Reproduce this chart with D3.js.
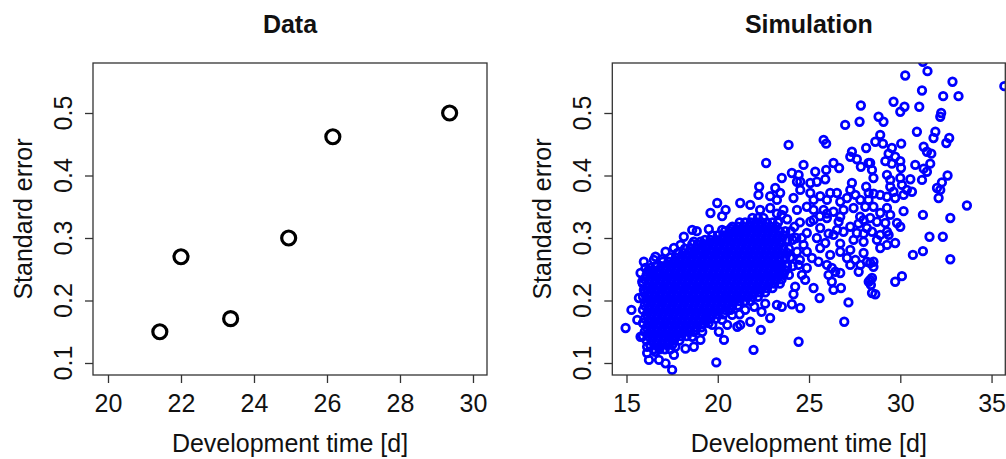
<!DOCTYPE html>
<html><head><meta charset="utf-8">
<script src="https://cdn.jsdelivr.net/npm/d3@7"></script>
<style>body{margin:0;background:#fff} svg{display:block} text{font-family:"Liberation Sans",Arial,sans-serif;fill:#111}</style>
</head><body><svg id="c" width="1006" height="459"></svg>
<script>
// ---------- data ----------
const titles = ["Data", "Simulation"];
const xLabel = "Development time [d]";
const yLabel = "Standard error";
const leftXTicks = [20, 22, 24, 26, 28, 30];
const rightXTicks = [15, 20, 25, 30, 35];
const yTicks = [0.1, 0.2, 0.3, 0.4, 0.5];

// observed data (left panel)
const dataX = [21.42, 22.0, 23.36, 24.95, 26.16, 29.36];
const dataY = [0.15, 0.27, 0.171, 0.30, 0.462, 0.50];

// simulation: dense core, estimated row by row (y, list of x)
const simCoreY = [0.122,0.129,0.136,0.143,0.150,0.157,0.164,0.171,0.178,0.185,0.192,0.199,0.206,0.213,0.220,0.227,0.234,0.241,0.248,0.255,0.262,0.269,0.276,0.283,0.290,0.297,0.304,0.311,0.318,0.325,0.332];
const simCoreX = [
 [16.5,16.8,17.1,17.4],
 [16.3,16.6,16.9,17.2,17.5],
 [16.1,16.4,16.7,17.0,17.3,17.6,17.9],
 [15.9,16.2,16.5,16.8,17.1,17.4,17.7,18.0,18.3],
 [16.0,16.3,16.6,16.9,17.2,17.5,17.8,18.1,18.4,18.7],
 [16.1,16.4,16.7,17.0,17.3,17.6,17.9,18.2,18.5,18.8,19.1],
 [15.9,16.2,16.5,16.8,17.1,17.4,17.7,18.0,18.3,18.6,18.9,19.2,19.5],
 [16.0,16.3,16.6,16.9,17.2,17.5,17.8,18.1,18.4,18.7,19.0,19.3,19.6,19.9],
 [16.1,16.4,16.7,17.0,17.3,17.6,17.9,18.2,18.5,18.8,19.1,19.4,19.7,20.0,20.3],
 [15.9,16.2,16.5,16.8,17.1,17.4,17.7,18.0,18.3,18.6,18.9,19.2,19.5,19.8,20.1,20.4,20.7],
 [16.0,16.3,16.6,16.9,17.2,17.5,17.8,18.1,18.4,18.7,19.0,19.3,19.6,19.9,20.2,20.5,20.8,21.1],
 [16.1,16.4,16.7,17.0,17.3,17.6,17.9,18.2,18.5,18.8,19.1,19.4,19.7,20.0,20.3,20.6,20.9,21.2,21.5,21.8],
 [15.9,16.2,16.5,16.8,17.1,17.4,17.7,18.0,18.3,18.6,18.9,19.2,19.5,19.8,20.1,20.4,20.7,21.0,21.3,21.6,21.9,22.2],
 [16.0,16.3,16.6,16.9,17.2,17.5,17.8,18.1,18.4,18.7,19.0,19.3,19.6,19.9,20.2,20.5,20.8,21.1,21.4,21.7,22.0,22.3,22.6],
 [16.1,16.4,16.7,17.0,17.3,17.6,17.9,18.2,18.5,18.8,19.1,19.4,19.7,20.0,20.3,20.6,20.9,21.2,21.5,21.8,22.1,22.4,22.7,23.0],
 [15.9,16.2,16.5,16.8,17.1,17.4,17.7,18.0,18.3,18.6,18.9,19.2,19.5,19.8,20.1,20.4,20.7,21.0,21.3,21.6,21.9,22.2,22.5,22.8,23.1,23.4],
 [16.0,16.3,16.6,16.9,17.2,17.5,17.8,18.1,18.4,18.7,19.0,19.3,19.6,19.9,20.2,20.5,20.8,21.1,21.4,21.7,22.0,22.3,22.6,22.9,23.2,23.5],
 [16.1,16.4,16.7,17.0,17.3,17.6,17.9,18.2,18.5,18.8,19.1,19.4,19.7,20.0,20.3,20.6,20.9,21.2,21.5,21.8,22.1,22.4,22.7,23.0,23.3,23.6,23.9],
 [16.2,16.5,16.8,17.1,17.4,17.7,18.0,18.3,18.6,18.9,19.2,19.5,19.8,20.1,20.4,20.7,21.0,21.3,21.6,21.9,22.2,22.5,22.8,23.1,23.4,23.7],
 [16.6,16.9,17.2,17.5,17.8,18.1,18.4,18.7,19.0,19.3,19.6,19.9,20.2,20.5,20.8,21.1,21.4,21.7,22.0,22.3,22.6,22.9,23.2,23.5,23.8,24.1],
 [17.0,17.3,17.6,17.9,18.2,18.5,18.8,19.1,19.4,19.7,20.0,20.3,20.6,20.9,21.2,21.5,21.8,22.1,22.4,22.7,23.0,23.3],
 [17.4,17.7,18.0,18.3,18.6,18.9,19.2,19.5,19.8,20.1,20.4,20.7,21.0,21.3,21.6,21.9,22.2,22.5,22.8,23.1,23.4,23.7,24.0],
 [17.8,18.1,18.4,18.7,19.0,19.3,19.6,19.9,20.2,20.5,20.8,21.1,21.4,21.7,22.0,22.3,22.6,22.9,23.2,23.5,23.8],
 [18.2,18.5,18.8,19.1,19.4,19.7,20.0,20.3,20.6,20.9,21.2,21.5,21.8,22.1,22.4,22.7,23.0,23.3,23.6,23.9],
 [18.6,18.9,19.2,19.5,19.8,20.1,20.4,20.7,21.0,21.3,21.6,21.9,22.2,22.5,22.8,23.1,23.4],
 [19.3,19.6,19.9,20.2,20.5,20.8,21.1,21.4,21.7,22.0,22.3,22.6,22.9,23.2,23.5,23.8,24.1],
 [19.7,20.0,20.3,20.6,20.9,21.2,21.5,21.8,22.1,22.4,22.7,23.0,23.3,23.6],
 [20.4,20.7,21.0,21.3,21.6,21.9,22.2,22.5,22.8,23.1,23.4,23.7,24.0],
 [20.8,21.1,21.4,21.7,22.0,22.3,22.6,22.9,23.2],
 [21.2,21.5,21.8,22.1,22.4,22.7,23.0,23.3],
 [21.9,22.2,22.5]
];

// simulation: sparse points read individually, [x, y]
const simUpper = [
 [31.24,0.582],[30.27,0.560],[31.49,0.567],[32.86,0.550],[31.19,0.536],[33.19,0.527],[32.35,0.527],[29.63,0.518],
 [30.23,0.510],[30.00,0.502],[31.04,0.510],[32.24,0.500],[32.19,0.494],[28.81,0.494],[29.08,0.486],[30.91,0.470],
 [31.92,0.470],[31.82,0.460],[32.68,0.460],[32.52,0.452],[28.90,0.465],[28.63,0.454],[29.05,0.451],[30.05,0.451],
 [29.54,0.444],[29.36,0.435],[29.72,0.430],[31.28,0.446],[31.46,0.438],[31.70,0.435],[29.18,0.423],[29.54,0.419],
 [30.00,0.423],[30.04,0.412],[30.82,0.417],[31.28,0.411],[31.64,0.419],[28.35,0.420],[35.70,0.543],[27.84,0.512],
 [26.98,0.481],[27.77,0.486],[23.88,0.449],[25.80,0.457],[25.94,0.451],[22.65,0.420],[24.70,0.417],[26.34,0.420],
 [26.65,0.412],[27.35,0.438],[27.26,0.430],[27.62,0.426],[28.13,0.444],[28.26,0.420],[27.84,0.414],[28.45,0.409]
];
const simRight = [
 [32.59,0.400],[32.28,0.389],[32.19,0.377],[32.10,0.364],[33.65,0.352],[31.19,0.393],[31.46,0.406],[32.01,0.380],
 [28.53,0.396],[29.27,0.401],[29.45,0.393],[30.00,0.396],[30.55,0.394],[30.09,0.385],[30.36,0.377],[30.64,0.374],
 [28.90,0.369],[29.27,0.366],[29.72,0.364],[30.18,0.369],[29.45,0.382],[29.63,0.374],[30.18,0.343],[31.24,0.337],
 [32.74,0.332],[29.27,0.348],[29.45,0.337],[28.90,0.340],[28.72,0.326],[29.18,0.324],[29.82,0.324],[30.00,0.318],
 [29.27,0.310],[28.90,0.305],[29.36,0.305],[29.72,0.292],[28.90,0.284],[29.27,0.289],[28.72,0.297],[31.60,0.302],
 [32.33,0.302],[31.24,0.279],[30.69,0.273],[32.74,0.266],[30.09,0.239],[29.72,0.230],[28.35,0.332],[28.45,0.310],
 [28.53,0.262],[28.45,0.236],[28.35,0.260],[28.53,0.254],[28.35,0.233],[28.39,0.225],[28.63,0.210],[28.53,0.350]
];
const simMid = [
 [24.06,0.404],[24.43,0.401],[23.51,0.396],[24.34,0.390],[25.07,0.388],[25.34,0.406],[25.94,0.409],[25.89,0.394],
 [25.43,0.390],[22.27,0.382],[22.23,0.369],[23.15,0.380],[23.42,0.372],[22.87,0.367],[23.24,0.361],[24.15,0.364],
 [24.52,0.377],[25.07,0.372],[25.61,0.367],[26.16,0.372],[26.53,0.372],[25.98,0.361],[26.71,0.358],[27.26,0.377],
 [27.08,0.364],[27.54,0.369],[27.81,0.361],[28.27,0.372],[28.13,0.382],[28.08,0.350],[21.23,0.356],[21.78,0.353],
 [22.32,0.345],[22.87,0.348],[23.60,0.345],[24.34,0.345],[24.88,0.350],[25.25,0.345],[25.80,0.345],[26.34,0.342],
 [26.89,0.345],[27.44,0.348],[25.25,0.361],[27.35,0.388],[28.26,0.361],[24.52,0.390],[23.24,0.339],
 [26.62,0.326],[26.89,0.310],[27.26,0.318],[27.62,0.308],[28.17,0.316],[27.99,0.294],[25.61,0.284],[26.16,0.273],
 [26.71,0.278],[27.08,0.268],[27.54,0.265],[27.72,0.246],[26.71,0.244],[27.26,0.257],[28.27,0.230],[28.45,0.212],
 [26.34,0.217],[26.75,0.220],[27.16,0.197],[26.93,0.166],[25.58,0.204],[25.25,0.220],[24.79,0.233],[24.24,0.222],
 [24.15,0.210],[24.52,0.188],[24.06,0.194],[23.51,0.190],[23.24,0.193],[22.87,0.172],[22.36,0.153],[21.78,0.166],
 [21.96,0.121],[24.43,0.134],[21.23,0.161],[26.07,0.241],[26.25,0.230],[24.88,0.278],[25.16,0.268],[25.52,0.262],
 [25.98,0.257],[26.25,0.252],[25.07,0.326],[25.61,0.316],[25.98,0.332],[26.34,0.305],[25.43,0.300],[25.89,0.292],
 [24.88,0.308],[24.70,0.289],[24.34,0.278],[23.97,0.268],[24.43,0.257],[24.88,0.252],[24.61,0.241],[23.60,0.244],
 [23.33,0.257],[26.44,0.246],[27.81,0.257],[28.17,0.262],[25.98,0.339],[26.71,0.334],[27.80,0.334],[27.99,0.307],
 [26.53,0.313],[26.07,0.307],[25.25,0.329],[26.71,0.291],[27.26,0.281],[27.99,0.276],[27.44,0.297],[28.54,0.371],
 [27.99,0.329],[27.71,0.323],[24.50,0.325],[24.60,0.300],[25.60,0.335],
 [21.50,0.185],[22.00,0.190],[22.40,0.182],[21.20,0.178],[22.60,0.195],
 [24.30,0.300],[24.50,0.265],[24.20,0.318],[23.80,0.330],[23.50,0.337]
];
const simEdge = [
 [19.97,0.356],[19.60,0.340],[20.43,0.345],[20.24,0.335],[19.51,0.314],[18.60,0.313],[18.85,0.311],[18.14,0.302],
 [18.69,0.294],[19.05,0.294],[19.33,0.289],[17.96,0.289],[17.60,0.284],[17.14,0.278],[16.59,0.270],[15.95,0.262],
 [16.50,0.265],[16.95,0.266],[20.24,0.313],[20.70,0.315],[21.07,0.310],[20.79,0.302],
 [14.95,0.156],[15.27,0.185],[15.59,0.169],[15.77,0.142],[15.68,0.204],[15.86,0.230],[15.95,0.217],[15.77,0.244],
 [16.04,0.252],[16.32,0.252],[16.13,0.116],[16.23,0.105],[16.78,0.105],[17.14,0.0995],[17.60,0.113],[17.50,0.089],
 [16.13,0.126],[16.59,0.118],[18.23,0.123],[18.69,0.126],[19.05,0.137],[17.68,0.126],[17.60,0.137],[19.92,0.101],
 [19.15,0.150],[19.70,0.161],[20.06,0.150],[20.34,0.137],[20.52,0.161],[20.79,0.177],[21.07,0.158],[19.42,0.169],
 [20.24,0.169],[18.60,0.142],[18.78,0.153]
];

// ---------- build point tables ----------
const leftPts = dataX.map((x, i) => [x, dataY[i]]);
const simPts = [];
simCoreY.forEach((y, i) => simCoreX[i].forEach(x => simPts.push([x, y])));
[simUpper, simRight, simMid, simEdge].forEach(a => a.forEach(p => simPts.push(p)));

// ---------- drawing ----------
const svg = d3.select("#c");
const yDomain = [0.0808, 0.58];
const FS = 25;
const plotTop = 63, plotBottom = 375;

const panels = [
  {title: titles[0], left: 93, right: 487, xDomain: [19.589, 30.384], xTicks: leftXTicks,
   pts: leftPts, color: "#000", r: 7, sw: 3.2},
  {title: titles[1], left: 612.3, right: 1005.3, xDomain: [14.222, 35.753], xTicks: rightXTicks,
   pts: simPts, color: "#0000ff", r: 3.8, sw: 2.7}
];

panels.forEach((p, k) => {
  const x = d3.scaleLinear().domain(p.xDomain).range([p.left, p.right]);
  const y = d3.scaleLinear().domain(yDomain).range([plotBottom, plotTop]);
  const g = svg.append("g");

  const clipId = "clip" + k;
  svg.append("clipPath").attr("id", clipId).append("rect")
    .attr("x", p.left).attr("y", plotTop).attr("width", p.right - p.left).attr("height", plotBottom - plotTop);

  // points
  g.append("g").attr("clip-path", `url(#${clipId})`)
    .selectAll("circle").data(p.pts).join("circle")
    .attr("cx", d => x(d[0])).attr("cy", d => y(d[1])).attr("r", p.r)
    .attr("fill", "none").attr("stroke", p.color).attr("stroke-width", p.sw);

  // box
  g.append("rect").attr("x", p.left).attr("y", plotTop)
    .attr("width", p.right - p.left).attr("height", plotBottom - plotTop)
    .attr("fill", "none").attr("stroke", "#333").attr("stroke-width", 1.3);

  // x axis
  const xa = g.append("g").attr("transform", `translate(0,${plotBottom})`)
    .call(d3.axisBottom(x).tickValues(p.xTicks).tickSize(8).tickFormat(d3.format("d")));
  xa.select(".domain").remove();
  xa.selectAll("line").attr("stroke", "#333").attr("stroke-width", 1.3);
  xa.selectAll("text").attr("y", 36.5).attr("dy", null)
    .style("font-size", FS + "px").style("font-family", "'Liberation Sans', Arial, sans-serif").attr("fill", "#111");

  // y axis
  const ya = g.append("g").attr("transform", `translate(${p.left},0)`)
    .call(d3.axisLeft(y).tickValues(yTicks).tickSize(8).tickFormat(""));
  ya.select(".domain").remove();
  ya.selectAll("line").attr("stroke", "#333").attr("stroke-width", 1.3);
  g.selectAll(".ylab").data(yTicks).join("text").attr("class", "ylab")
    .attr("transform", d => `translate(${p.left - 21.5},${y(d)}) rotate(-90)`)
    .attr("text-anchor", "middle").style("font-size", FS + "px")
    .text(d3.format(".1f"));

  // labels
  const cx = (p.left + p.right) / 2;
  g.append("text").attr("x", cx).attr("y", 451.5).attr("text-anchor", "middle")
    .style("font-size", FS + "px").text(xLabel);
  g.append("text").attr("transform", `translate(${p.left - 61.5},${(plotTop + plotBottom) / 2}) rotate(-90)`)
    .attr("text-anchor", "middle").style("font-size", FS + "px").text(yLabel);
  g.append("text").attr("x", cx).attr("y", 32.5).attr("text-anchor", "middle")
    .style("font-size", FS + "px").style("font-weight", "bold").text(p.title);
});
</script>
</body></html>
